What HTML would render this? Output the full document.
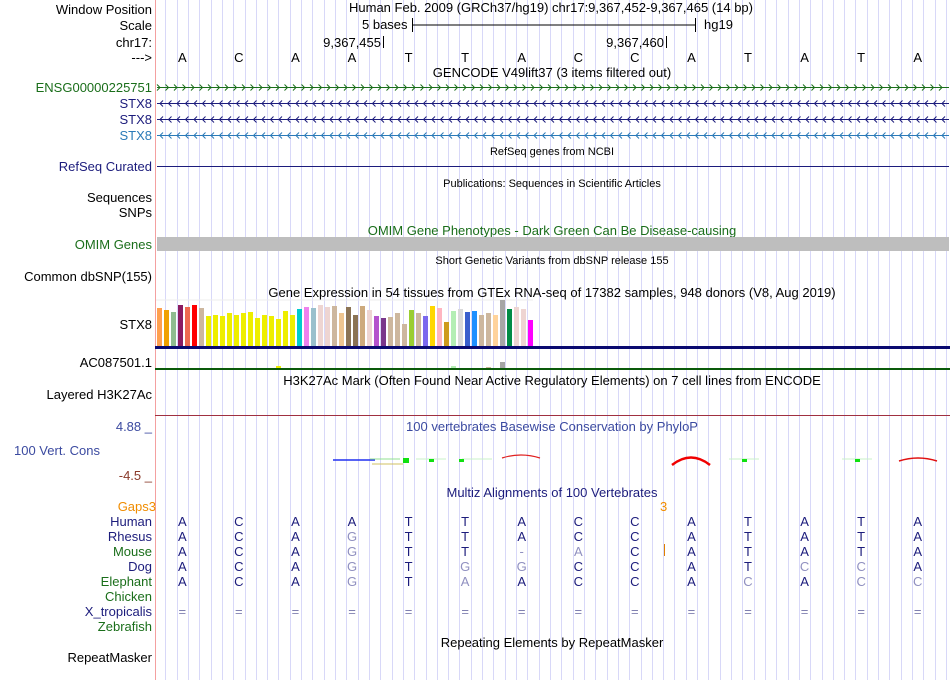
<!DOCTYPE html>
<html><head><meta charset="utf-8"><style>
html,body{margin:0;padding:0;background:#fff}
svg{display:block;font-family:"Liberation Sans",sans-serif}
</style></head><body>
<svg id="s" width="950" height="680" viewBox="0 0 950 680" xmlns="http://www.w3.org/2000/svg">
<g id="grid"></g>
<line x1="155.5" y1="0" x2="155.5" y2="680" stroke="#f4a0a0"/>
<g font-size="13" text-anchor="end">
<text x="152" y="14">Window Position</text>
<text x="152" y="30">Scale</text>
<text x="152" y="47">chr17:</text>
<text x="152" y="62">---&gt;</text>
<text x="152" y="92" fill="#1a6e1a">ENSG00000225751</text>
<text x="152" y="108" fill="#1c1c7c">STX8</text>
<text x="152" y="124" fill="#1c1c7c">STX8</text>
<text x="152" y="140" fill="#2a7ab8">STX8</text>
<text x="152" y="171" fill="#1c1c7c">RefSeq Curated</text>
<text x="152" y="202">Sequences</text>
<text x="152" y="217">SNPs</text>
<text x="152" y="249" fill="#1a6e1a">OMIM Genes</text>
<text x="152" y="281">Common dbSNP(155)</text>
<text x="152" y="329">STX8</text>
<text x="152" y="367">AC087501.1</text>
<text x="152" y="399">Layered H3K27Ac</text>
<text x="152" y="431" fill="#3b4aa0">4.88 _</text>
<text x="100" y="455" fill="#3b4aa0">100 Vert. Cons</text>
<text x="152" y="480" fill="#8a3a2a">-4.5 _</text>
<text x="156" y="511" fill="#f08c00">Gaps3</text>
<text x="152" y="526" fill="#1c1c7c">Human</text>
<text x="152" y="541" fill="#1c1c7c">Rhesus</text>
<text x="152" y="556" fill="#1a6e1a">Mouse</text>
<text x="152" y="571" fill="#1c1c7c">Dog</text>
<text x="152" y="586" fill="#1a6e1a">Elephant</text>
<text x="152" y="601" fill="#1a6e1a">Chicken</text>
<text x="152" y="616" fill="#1c1c7c">X_tropicalis</text>
<text x="152" y="631" fill="#1a6e1a">Zebrafish</text>
<text x="152" y="662">RepeatMasker</text>
</g>
<g font-size="13">
<text x="349" y="12">Human Feb. 2009 (GRCh37/hg19)   chr17:9,367,452-9,367,465 (14 bp)</text>
<text x="362" y="29">5 bases</text>
<text x="704" y="29">hg19</text>
<text x="381" y="47" text-anchor="end">9,367,455</text>
<text x="664" y="47" text-anchor="end">9,367,460</text>
<text x="552" y="77" text-anchor="middle">GENCODE V49lift37 (3 items filtered out)</text>
<text x="552" y="155" text-anchor="middle" font-size="11">RefSeq genes from NCBI</text>
<text x="552" y="187" text-anchor="middle" font-size="11">Publications: Sequences in Scientific Articles</text>
<text x="552" y="235" text-anchor="middle" fill="#1a6e1a">OMIM Gene Phenotypes - Dark Green Can Be Disease-causing</text>
<text x="552" y="264" text-anchor="middle" font-size="11">Short Genetic Variants from dbSNP release 155</text>
<text x="552" y="297" text-anchor="middle">Gene Expression in 54 tissues from GTEx RNA-seq of 17382 samples, 948 donors (V8, Aug 2019)</text>
<text x="552" y="385" text-anchor="middle">H3K27Ac Mark (Often Found Near Active Regulatory Elements) on 7 cell lines from ENCODE</text>
<text x="552" y="431" text-anchor="middle" fill="#3b4aa0">100 vertebrates Basewise Conservation by PhyloP</text>
<text x="552" y="497" text-anchor="middle" fill="#1c1c7c">Multiz Alignments of 100 Vertebrates</text>
<text x="660" y="511" fill="#f08c00">3</text>
<text x="552" y="647" text-anchor="middle">Repeating Elements by RepeatMasker</text>
</g>
<g stroke="#000">
<line x1="412" y1="25" x2="696" y2="25"/><line x1="412.5" y1="18" x2="412.5" y2="32"/><line x1="695.5" y1="18" x2="695.5" y2="32"/>
<line x1="383.5" y1="36" x2="383.5" y2="48"/><line x1="666.5" y1="36" x2="666.5" y2="48"/>
</g>
<rect x="157" y="237" width="792" height="14" fill="#bebebe"/>
<line x1="157" y1="166.5" x2="949" y2="166.5" stroke="#1c1c7c"/>
<rect x="155" y="346" width="795" height="3" fill="#0a0a70"/>
<rect x="155" y="368" width="795" height="2" fill="#0a5a0a"/>
<line x1="155" y1="415.5" x2="950" y2="415.5" stroke="#a03040"/>
<line x1="156" y1="300" x2="533" y2="300" stroke="#eee"/>
<g id="genes"></g>
<g id="bars"></g>
<g>
<path d="M333 460 L375 460" stroke="#2030f0" stroke-width="1.5"/>
<path d="M370 459 L400 459" stroke="#90e090"/><rect x="403" y="458" width="6" height="5" fill="#10e010"/>
<path d="M372 464 L403 464" stroke="#d0c060"/>
<path d="M416 459 L446 459" stroke="#c8f0c8"/><rect x="429" y="459" width="5" height="3" fill="#10e010"/>
<path d="M462 459 L492 459" stroke="#c8f0c8"/><rect x="459" y="459" width="5" height="3" fill="#10e010"/>
<path d="M502 458 Q521 452 540 458" stroke="#e02020" fill="none" stroke-width="1.2"/>
<path d="M672 465 Q691 450 710 465" stroke="#f00000" fill="none" stroke-width="2.5"/>
<path d="M729 459 L759 459" stroke="#c8f0c8"/><rect x="742" y="459" width="5" height="3" fill="#10e010"/>
<path d="M842 459 L872 459" stroke="#c8f0c8"/><rect x="855" y="459" width="5" height="3" fill="#10e010"/>
<path d="M899 461 Q918 455 937 461" stroke="#e01010" fill="none" stroke-width="1.5"/>
</g>
<line x1="664.5" y1="544" x2="664.5" y2="556" stroke="#e08000"/>
<g id="seq" font-size="13" text-anchor="middle"></g>
</svg>
<script>
const bases = ["A","C","A","A","T","T","A","C","C","A","T","A","T","A"];
const rhesus = "ACAGTTACCATATA";
const mouse = "ACAGTT-ACATATA";
const dog = "ACAGTGGCCATCCA";
const elephant = "ACAGTAACCACACC";
const gtexValues = [38,36,34,41,39,41,38,30,31,30,33,31,33,34,28,31,30,27,35,31,37,39,38,41,39,40,33,39,31,40,36,30,28,29,33,22,36,33,30,40,38,24,35,37,34,35,31,33,31,46,37,39,37,26];
const gtexColors = ["#ff9f4f","#f0a000","#8fbc8f","#8b1c62","#ee6a50","#ff0000","#cdb79e","#eeee00","#eeee00","#eeee00","#eeee00","#eeee00","#eeee00","#eeee00","#eeee00","#eeee00","#eeee00","#eeee00","#eeee00","#eeee00","#00cdcd","#ee82ee","#9ac0cd","#eed5d2","#eed5d2","#cdb79e","#eec591","#8b7355","#8b7355","#cdaa7d","#eed5d2","#b452cd","#7a378b","#cdb79e","#cdb79e","#cdb79e","#9acd32","#cdb79e","#7b68ee","#ffd700","#ffb6c1","#cd9b1d","#b4eeb4","#d9d9d9","#3a5fcd","#1e90ff","#cdb79e","#cdb79e","#ffd39b","#a6a6a6","#008b45","#eed5d2","#eed5d2","#ff00ff"];
const acValues = [0,0,0,0,0,0,0,0,0,0,0,0,0,0,0,0,0,2,0,0,0,0,0,0,0,0,0,0,0,0,0,0,0,0,0,0,0,0,0,0,0,0,2,0,0,0,0,1,0,6,0,0,0,0];
const NS="http://www.w3.org/2000/svg";
const x0=154, x1=946, nb=bases.length, bw=(x1-x0)/nb;
function xBase(i){return x0+bw*(i+0.5);}
function xBar(i){return 157+i*7;}
function yBar(v){return 346-v;}
function mk(tag,attrs,parent){const e=document.createElementNS(NS,tag);for(const k in attrs)e.setAttribute(k,attrs[k]);parent.appendChild(e);return e;}
const grid=document.getElementById('grid');
for(let k=1;k<nb*5+1;k++){const x=Math.round(x0+k*bw/5)+0.5;
 const l=mk('line',{x1:x,y1:0,x2:x,y2:680,stroke:'#d8d8f8'},grid);
 
 }
const genes=document.getElementById('genes');
const rows=[[87,'#1a6e1a',1,'ensg-gene'],[103,'#1c1c7c',-1,'stx8-transcript-1'],[119,'#1c1c7c',-1,'stx8-transcript-2'],[135,'#2a7ab8',-1,'stx8-transcript-3']];
rows.forEach(r=>{const g=mk('g',{stroke:r[1],fill:'none'},genes);
 
 
 mk('line',{x1:157,y1:r[0]+.5,x2:949,y2:r[0]+.5},g);
 let d='';for(let x=160;x<946;x+=8.5){const a=r[2]*3;d+=`M${x-a} ${r[0]-2.5}L${x} ${r[0]+.5}L${x-a} ${r[0]+3.5}`;}
 mk('path',{d:d},g);});
const bars=document.getElementById('bars');
gtexValues.forEach((v,i)=>{const b=mk('rect',{x:xBar(i),y:yBar(v),width:5,height:v,fill:gtexColors[i]},bars);
 
 });
acValues.forEach((v,i)=>{if(!v)return;const b=mk('rect',{x:xBar(i),y:368-v,width:5,height:v,fill:gtexColors[i]},bars);
 
 });
const seq=document.getElementById('seq');
function put(ch,i,y,fill,name){const t=mk('text',{x:xBase(i),y:y,fill:fill},seq);t.textContent=ch;
 
 }
bases.forEach((b,i)=>{put(b,i,62,'#000','ref-base');put(b,i,526,'#1c1c7c','human-base');});
[[rhesus,541],[mouse,556],[dog,571],[elephant,586]].forEach(s=>{for(let i=0;i<nb;i++){const c=s[0][i];put(c,i,s[1],c===bases[i]?'#1c1c7c':'#9090c0','aligned-base');}});
for(let i=0;i<nb;i++)put('=',i,616,'#8080b0','xtrop-gap');
</script>
</body></html>
